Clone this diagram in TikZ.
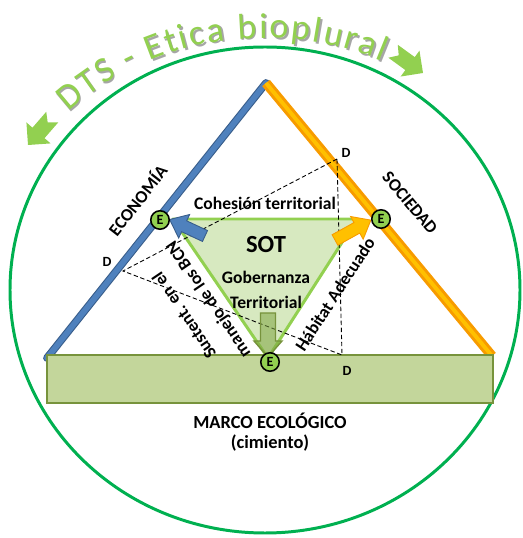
\documentclass[tikz,border=0pt]{standalone}
\usepackage{fontspec}
\setmainfont{Carlito}
\usetikzlibrary{decorations.text}

\definecolor{ringgreen}{HTML}{00B050}
\definecolor{leafgreen}{HTML}{92D050}
\definecolor{palegreen}{HTML}{D7E9C0}
\definecolor{olivegreen}{HTML}{77933C}
\definecolor{basegreen}{HTML}{C3D69B}
\definecolor{ecoblue}{HTML}{4F81BD}
\definecolor{ecobluedark}{HTML}{385D8A}
\definecolor{socorange}{HTML}{FFC000}
\definecolor{socorangedark}{HTML}{F79B00}

\tikzset{
  ring/.style={draw=ringgreen, line width=1.7pt},
  ecoline/.style={draw=ecobluedark, double=ecoblue, double distance=3.2pt, line width=0.6pt},
  socline/.style={draw=socorangedark, double=socorange, double distance=2.2pt, line width=1.7pt},
  base/.style={draw=olivegreen, fill=basegreen, line width=1.7pt},
  sotfill/.style={draw=leafgreen, fill=palegreen, line width=1.7pt, line join=round},
  dline/.style={dashed, dash pattern=on 2.5pt off 1.5pt, line width=0.5pt},
  enode/.style={circle, draw=black, line width=0.9pt, fill=leafgreen, inner sep=0pt,
    minimum size=10.5pt, font=\fontsize{8}{9}\selectfont\bfseries},
  dlabel/.style={font=\fontsize{8}{9}\selectfont\bfseries},
  lbl/.style={font=\fontsize{10}{12}\selectfont\bfseries, align=center},
  titletext/.style={decorate, decoration={text along path, text align=fit to path,
      text={|\fontsize{20.5}{22}\selectfont\color{#1}|DTS -  Etica bioplural}}},
}

\newcommand{\blkarrow}[6]{% style, tail, angle, length, shaft, head
  \draw[#1, shift={#2}, rotate=#3]
    (0,-#5) -- (#4-16,-#5) -- (#4-16,-#6) -- (#4,0) -- (#4-16,#6) -- (#4-16,#5) -- (0,#5) -- cycle;}
\newcommand{\chevron}[2]{% tip, angle
  \fill[leafgreen, shift={#1}, rotate=#2]
    (0,0) -- (-16,16) -- (-16,8) -- (-37,8) -- (-30,0) -- (-37,-8) -- (-16,-8) -- (-16,-16) -- cycle;}

\begin{document}
\begin{tikzpicture}[x=0.02cm, y=0.02cm]
  \useasboundingbox (0,0) rectangle (523,538);

  % outer ring
  \draw[ring] (265,248) ellipse [x radius=255, y radius=243];

  % title along the ring
  \path[titletext=black!35]
    (266.5,246.5) ++(135:278 and 252) arc [start angle=135, end angle=65, x radius=278, y radius=252];
  \path[titletext=leafgreen]
    (265,248) ++(135:278 and 252) arc [start angle=135, end angle=65, x radius=278, y radius=252];

  \chevron{(28,393)}{229}
  \chevron{(423,465)}{-36}

  % the two sides
  \coordinate (apex) at (266,455);
  \coordinate (ecoend) at (47,180);
  \coordinate (socend) at (492,182);
  \draw[ecoline, line cap=round] (ecoend) -- (apex);
  \draw[socline] (apex) -- (socend);

  % base
  \draw[base] (47,135) rectangle (493,183);

  % SOT triangle
  \coordinate (tl) at (173,319);
  \coordinate (tr) at (357,319);
  \coordinate (tb) at (268,180);
  \draw[sotfill] (tl) -- (tr) -- (tb) -- cycle;

  % D triangle
  \coordinate (dtop) at (337,379);
  \coordinate (dleft) at (123,267);
  \coordinate (dbot) at (342,183);
  \draw[dline] (dtop) -- (dleft) -- (dbot) -- cycle;
  \node[dlabel] (dtoplbl) at (346,385) {D};
  \node[dlabel] (dleftlbl) at (107,276) {D};
  \node[dlabel] (dbotlbl) at (347,167) {D};

  % block arrows
  \blkarrow{draw=ecobluedark, fill=ecoblue, line width=0.5pt}{(205,302)}{155}{39}{6}{13}
  \blkarrow{draw=socorangedark, fill=socorange, line width=0.5pt}{(335,298)}{29}{41}{6}{13}
  \blkarrow{draw=olivegreen, fill=olivegreen!70!leafgreen, fill opacity=0.55, line width=0.8pt}{(268,225)}{-90}{44}{7.5}{14}

  % E nodes
  \node[enode] (eleft) at (160,318) {E};
  \node[enode] (eright) at (381,319) {E};
  \node[enode] (ebot) at (270,176) {E};

  % labels
  \node[lbl] (cohesion) at (265,335) {Cohesión territorial};
  \node[lbl, font=\fontsize{14}{16}\selectfont\bfseries] (sot) at (266,293) {SOT};
  \node[lbl] (gob) at (266,261) {Gobernanza};
  \node[lbl] (terr) at (266,236) {Territorial};
  \node[lbl, rotate=52] (eco) at (137,338) {ECONOMÍA};
  \node[lbl, rotate=-50] (soc) at (410,335) {SOCIEDAD};
  \node[lbl, rotate=124, font=\fontsize{10}{16.5}\selectfont\bfseries] (bcn) at (197,231) {Sustent. en el\\manejo de los BCN};
  \node[lbl, rotate=57] (habitat) at (335,244) {Hábitat Adecuado};
  \node[lbl, font=\fontsize{10.5}{11.5}\selectfont\bfseries] (marco) at (270,106) {MARCO ECOLÓGICO\\(cimiento)};
\end{tikzpicture}
\end{document}
